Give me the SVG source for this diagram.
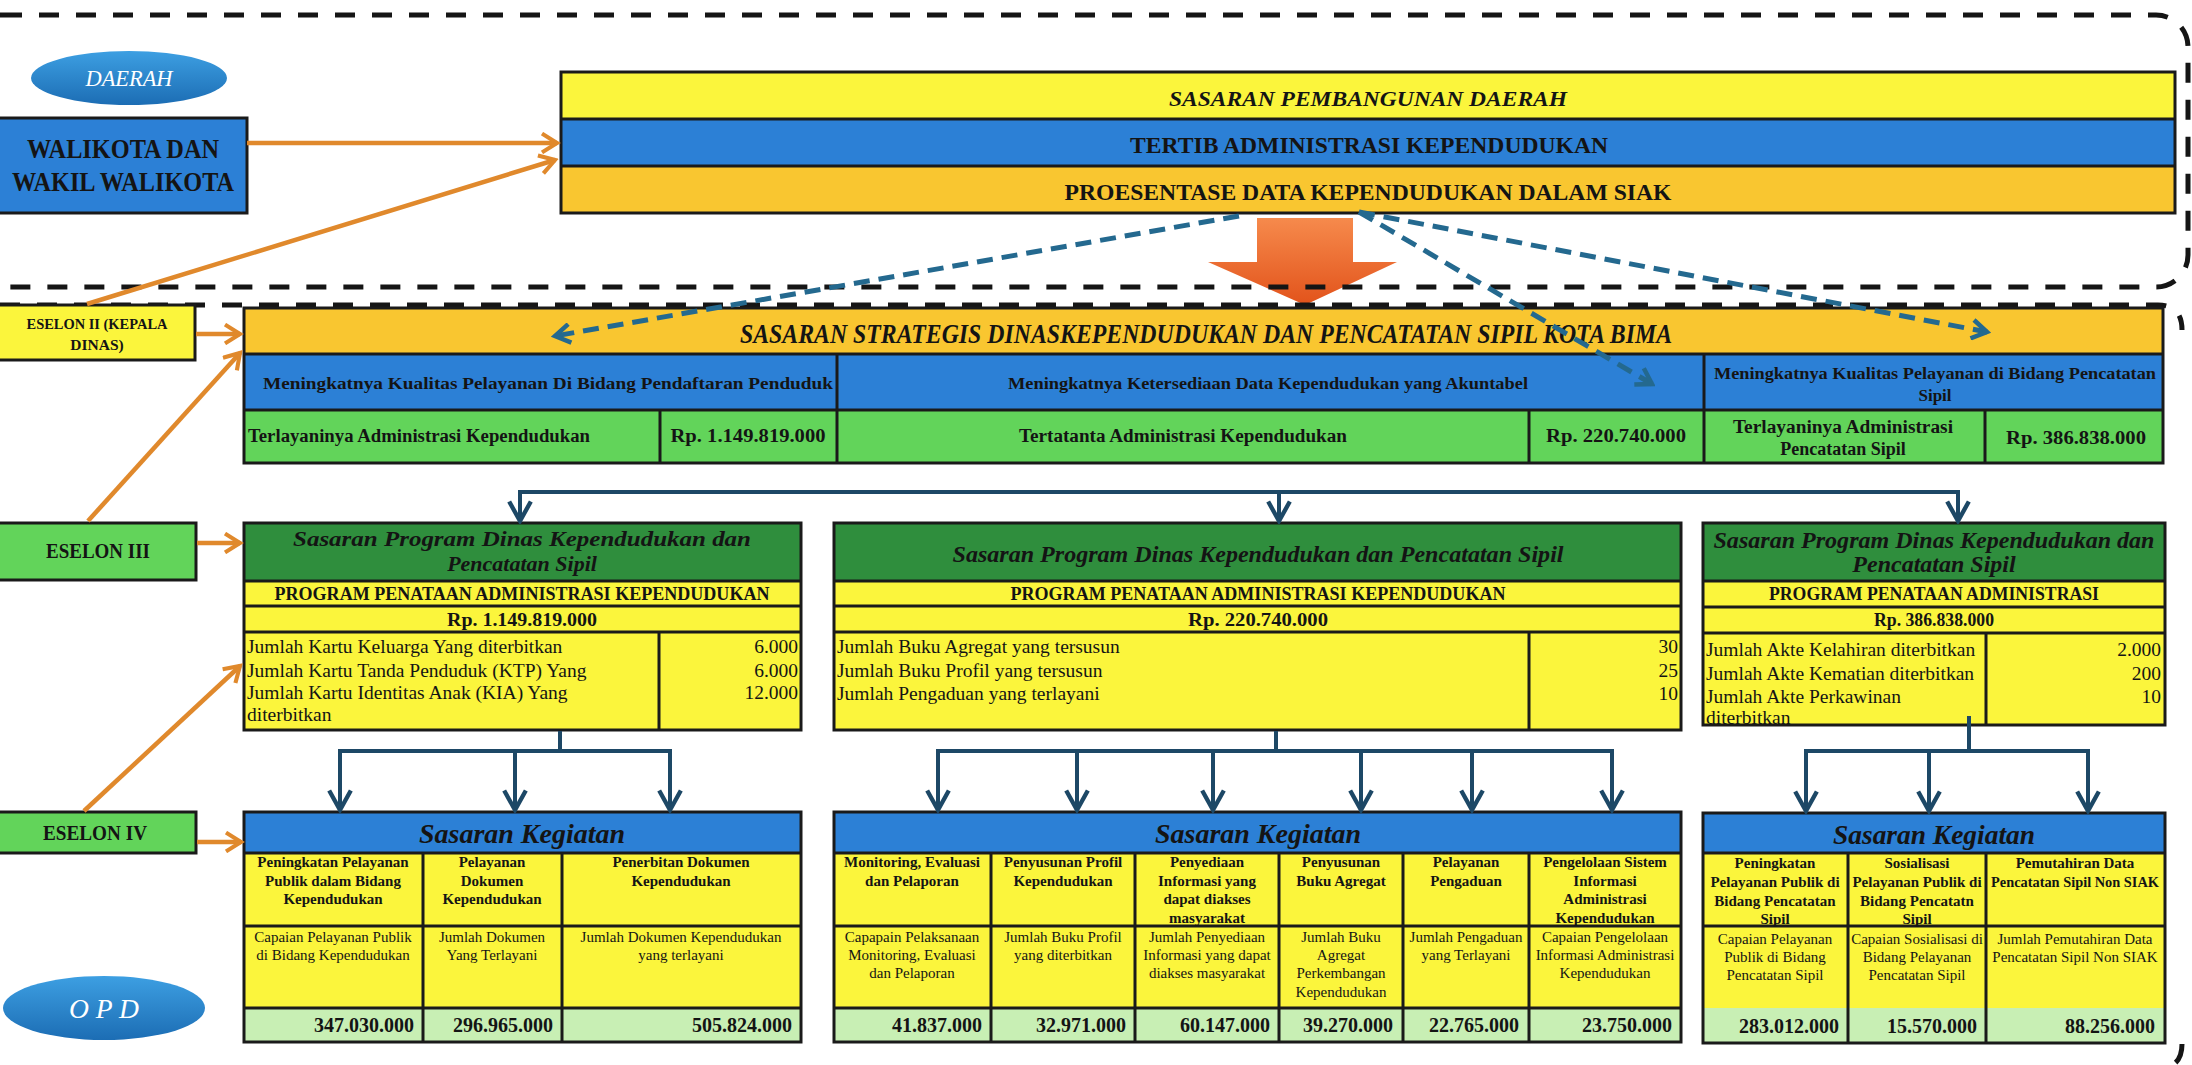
<svg xmlns="http://www.w3.org/2000/svg" width="2192" height="1065" viewBox="0 0 2192 1065">
<defs>
<style>
text{font-family:'Liberation Serif','Times New Roman',serif;fill:#141414}
.b{font-weight:bold}
.i{font-style:italic}
.m{text-anchor:middle}
.e{text-anchor:end}
.bd{stroke:#1a1a1a;stroke-width:3}
.ln{stroke:#1a1a1a;stroke-width:3;fill:none}
.yl{fill:#fbf53c}
.gd{fill:#f9c630}
.bl{fill:#2c80d6}
.dg{fill:#2f8e3d}
.gr{fill:#62d45a}
.lg{fill:#c8efb4}
.frame{fill:none;stroke:#151515;stroke-width:5;stroke-dasharray:20 17}
.or{stroke:#e0892c;stroke-width:4.5;fill:none}
.nv{stroke:#1d4866;stroke-width:4;fill:none}
.bd2{stroke:#24698f;stroke-width:5;fill:none;stroke-dasharray:16 9}
.f15{font-size:15px}
.f19{font-size:19.5px}
.f18{font-size:18px}
.w{fill:#fff}
</style>
<marker id="mo" viewBox="0 0 12 12" refX="10" refY="6" markerWidth="5" markerHeight="5" orient="auto" markerUnits="strokeWidth"><path d="M2,1 L10,6 L2,11" fill="none" stroke="#e0892c" stroke-width="2.2"/></marker>
<marker id="mn" viewBox="0 0 12 12" refX="10.5" refY="6" markerWidth="6.5" markerHeight="6.5" orient="auto" markerUnits="strokeWidth"><path d="M1.5,1 L10.5,6 L1.5,11" fill="none" stroke="#1d4866" stroke-width="2"/></marker>
<marker id="mb" viewBox="0 0 12 12" refX="10" refY="6" markerWidth="4.5" markerHeight="4.5" orient="auto" markerUnits="strokeWidth"><path d="M2,1 L10,6 L2,11" fill="none" stroke="#24698f" stroke-width="2.4"/></marker>
<linearGradient id="ge" x1="0" y1="0" x2="0" y2="1"><stop offset="0" stop-color="#3d9fe2"/><stop offset="1" stop-color="#1c6db4"/></linearGradient>
<linearGradient id="ga" x1="0" y1="0" x2="0" y2="1"><stop offset="0" stop-color="#f68a4c"/><stop offset="1" stop-color="#e2531b"/></linearGradient>
</defs>
<rect x="0" y="0" width="2192" height="1065" fill="#fff"/>

<g id="down-arrow">
<polygon points="1257,218 1353,218 1353,262 1397,262 1305,305 1208,262 1257,262" fill="url(#ga)"/>
</g>

<g id="frames">
<rect class="frame" x="-30" y="15" width="2218" height="272" rx="32"/>
<path class="frame" d="M0,305 H2158 Q2182,305 2182,330"/>
<path class="frame" d="M2182,1044 Q2182,1058 2174,1064"/>
</g>

<g id="daerah">
<ellipse cx="129" cy="78" rx="98" ry="27" fill="url(#ge)"/>
<text class="i m w" x="129" y="86" font-size="23" textLength="87" lengthAdjust="spacingAndGlyphs">DAERAH</text>
</g>

<g id="walikota">
<rect class="bl bd" x="-2" y="118" width="249" height="95"/>
<text class="b m" x="123" y="158" font-size="27" textLength="192" lengthAdjust="spacingAndGlyphs">WALIKOTA DAN</text>
<text class="b m" x="123" y="191" font-size="27" textLength="222" lengthAdjust="spacingAndGlyphs">WAKIL WALIKOTA</text>
</g>

<g id="sasaran-daerah">
<rect class="yl" x="561" y="72" width="1614" height="47"/>
<rect class="bl" x="561" y="119" width="1614" height="47"/>
<rect class="gd" x="561" y="166" width="1614" height="47"/>
<rect class="ln" x="561" y="72" width="1614" height="141" stroke-width="4"/>
<path class="ln" d="M561,119 H2175 M561,166 H2175" stroke-width="4"/>
<text class="b i m" x="1368" y="106" font-size="22" textLength="398" lengthAdjust="spacingAndGlyphs">SASARAN PEMBANGUNAN DAERAH</text>
<text class="b m" x="1369" y="153" font-size="24" textLength="478" lengthAdjust="spacingAndGlyphs">TERTIB ADMINISTRASI KEPENDUDUKAN</text>
<text class="b m" x="1368" y="200" font-size="24" textLength="607" lengthAdjust="spacingAndGlyphs">PROESENTASE DATA KEPENDUDUKAN DALAM SIAK</text>
</g>

<g id="eselon2">
<rect class="yl bd" x="-2" y="305" width="197" height="55"/>
<text class="b m" x="97" y="329" font-size="15.5" textLength="141" lengthAdjust="spacingAndGlyphs">ESELON II (KEPALA</text>
<text class="b m" x="97" y="350" font-size="15.5">DINAS)</text>
</g>

<g id="eselon3">
<rect class="gr bd" x="-2" y="523" width="198" height="57"/>
<text class="b m" x="98" y="558" font-size="21" textLength="104" lengthAdjust="spacingAndGlyphs">ESELON III</text>
</g>

<g id="eselon4">
<rect class="gr bd" x="-2" y="812" width="198" height="41"/>
<text class="b m" x="95" y="840" font-size="21" textLength="104" lengthAdjust="spacingAndGlyphs">ESELON IV</text>
</g>

<g id="opd">
<ellipse cx="104" cy="1008" rx="101" ry="32" fill="url(#ge)"/>
<text class="i m w" x="104" y="1018" font-size="28" textLength="70" lengthAdjust="spacingAndGlyphs">O P D</text>
</g>

<g id="sasaran-strategis">
<rect class="gd" x="244" y="308" width="1919" height="46"/>
<rect class="bl" x="244" y="354" width="1919" height="56"/>
<rect fill="#62d45a" x="244" y="410" width="1919" height="53"/>
<rect class="ln" x="244" y="308" width="1919" height="155"/>
<path class="ln" d="M244,354 H2163 M244,410 H2163 M837,354 V463 M1704,354 V463 M660,410 V463 M1529,410 V463 M1985,410 V463"/>
<text class="b i m" x="1206" y="343" font-size="27" textLength="932" lengthAdjust="spacingAndGlyphs">SASARAN STRATEGIS DINASKEPENDUDUKAN DAN PENCATATAN SIPIL KOTA BIMA</text>
<text class="b m" x="548" y="389" font-size="17" textLength="570" lengthAdjust="spacingAndGlyphs">Meningkatnya Kualitas Pelayanan Di Bidang Pendaftaran Penduduk</text>
<text class="b m" x="1268" y="389" font-size="17" textLength="520" lengthAdjust="spacingAndGlyphs">Meningkatnya Ketersediaan Data Kependudukan yang Akuntabel</text>
<text class="b m" x="1935" y="379" font-size="17" textLength="442" lengthAdjust="spacingAndGlyphs">Meningkatnya Kualitas Pelayanan di Bidang Pencatatan</text>
<text class="b m" x="1935" y="401" font-size="17">Sipil</text>
<text class="b" x="248" y="442" font-size="18" textLength="342" lengthAdjust="spacingAndGlyphs">Terlayaninya Administrasi Kependudukan</text>
<text class="b m" x="748" y="442" font-size="18" textLength="155" lengthAdjust="spacingAndGlyphs">Rp. 1.149.819.000</text>
<text class="b m" x="1183" y="442" font-size="18" textLength="328" lengthAdjust="spacingAndGlyphs">Tertatanta Administrasi Kependudukan</text>
<text class="b m" x="1616" y="442" font-size="18" textLength="140" lengthAdjust="spacingAndGlyphs">Rp. 220.740.000</text>
<text class="b m" x="1843" y="433" font-size="18" textLength="220" lengthAdjust="spacingAndGlyphs">Terlayaninya Administrasi</text>
<text class="b m" x="1843" y="455" font-size="18">Pencatatan Sipil</text>
<text class="b m" x="2076" y="444" font-size="19" textLength="140" lengthAdjust="spacingAndGlyphs">Rp. 386.838.000</text>
</g>

<g id="program-1">
<rect class="dg" x="244" y="523" width="557" height="58"/>
<rect class="yl" x="244" y="581" width="557" height="149"/>
<rect class="ln" x="244" y="523" width="557" height="207"/>
<path class="ln" d="M244,581 H801 M244,606 H801 M244,632 H801 M659,632 V730"/>
<text class="b i m" x="522" y="546" font-size="22" textLength="458" lengthAdjust="spacingAndGlyphs">Sasaran Program Dinas Kependudukan dan</text>
<text class="b i m" x="522" y="571" font-size="22">Pencatatan Sipil</text>
<text class="b m f18" x="522" y="600" textLength="495" lengthAdjust="spacingAndGlyphs">PROGRAM PENATAAN ADMINISTRASI KEPENDUDUKAN</text>
<text class="b m" x="522" y="626" font-size="19" textLength="150" lengthAdjust="spacingAndGlyphs">Rp. 1.149.819.000</text>
<text class="f19" x="247" y="653">Jumlah Kartu Keluarga Yang diterbitkan</text>
<text class="f19" x="247" y="677">Jumlah Kartu Tanda Penduduk (KTP) Yang</text>
<text class="f19" x="247" y="699">Jumlah Kartu Identitas Anak (KIA) Yang</text>
<text class="f19" x="247" y="721">diterbitkan</text>
<text class="f19 e" x="798" y="653">6.000</text>
<text class="f19 e" x="798" y="677">6.000</text>
<text class="f19 e" x="798" y="699">12.000</text>
</g>

<g id="program-2">
<rect class="dg" x="834" y="523" width="847" height="58"/>
<rect class="yl" x="834" y="581" width="847" height="149"/>
<rect class="ln" x="834" y="523" width="847" height="207"/>
<path class="ln" d="M834,581 H1681 M834,606 H1681 M834,632 H1681 M1529,632 V730"/>
<text class="b i m" x="1258" y="562" font-size="23" textLength="611" lengthAdjust="spacingAndGlyphs">Sasaran Program Dinas Kependudukan dan Pencatatan Sipil</text>
<text class="b m f18" x="1258" y="600" textLength="495" lengthAdjust="spacingAndGlyphs">PROGRAM PENATAAN ADMINISTRASI KEPENDUDUKAN</text>
<text class="b m" x="1258" y="626" font-size="19" textLength="140" lengthAdjust="spacingAndGlyphs">Rp. 220.740.000</text>
<text class="f19" x="837" y="653">Jumlah Buku Agregat yang tersusun</text>
<text class="f19" x="837" y="677">Jumlah Buku Profil yang tersusun</text>
<text class="f19" x="837" y="700">Jumlah Pengaduan yang terlayani</text>
<text class="f19 e" x="1678" y="653">30</text>
<text class="f19 e" x="1678" y="677">25</text>
<text class="f19 e" x="1678" y="700">10</text>
</g>

<g id="program-3">
<rect class="dg" x="1703" y="523" width="462" height="58"/>
<rect class="yl" x="1703" y="581" width="462" height="144"/>
<rect class="ln" x="1703" y="523" width="462" height="202"/>
<path class="ln" d="M1703,581 H2165 M1703,607 H2165 M1703,633 H2165 M1986,633 V725"/>
<text class="b i m" x="1934" y="548" font-size="24" textLength="441" lengthAdjust="spacingAndGlyphs">Sasaran Program Dinas Kependudukan dan</text>
<text class="b i m" x="1934" y="572" font-size="24">Pencatatan Sipil</text>
<text class="b m f18" x="1934" y="600" textLength="330" lengthAdjust="spacingAndGlyphs">PROGRAM PENATAAN ADMINISTRASI</text>
<text class="b m" x="1934" y="626" font-size="19" textLength="120" lengthAdjust="spacingAndGlyphs">Rp. 386.838.000</text>
<text class="f19" x="1706" y="656">Jumlah Akte Kelahiran diterbitkan</text>
<text class="f19" x="1706" y="680">Jumlah Akte Kematian diterbitkan</text>
<text class="f19" x="1706" y="703">Jumlah Akte Perkawinan</text>
<text class="f19" x="1706" y="724">diterbitkan</text>
<text class="f19 e" x="2161" y="656">2.000</text>
<text class="f19 e" x="2161" y="680">200</text>
<text class="f19 e" x="2161" y="703">10</text>
</g>

<g id="kegiatan-1">
<rect class="bl" x="244" y="812" width="557" height="41"/>
<rect class="yl" x="244" y="853" width="557" height="155"/>
<rect class="lg" x="244" y="1008" width="557" height="34"/>
<rect class="ln" x="244" y="812" width="557" height="230"/>
<path class="ln" d="M244,853 H801 M244,926 H801 M244,1008 H801 M423,853 V1042 M562,853 V1042"/>
<text class="b i m" x="522" y="843" font-size="28" textLength="206" lengthAdjust="spacingAndGlyphs">Sasaran Kegiatan</text>
<g class="b m f15">
<text x="333" y="867">Peningkatan Pelayanan</text><text x="333" y="885.5">Publik dalam Bidang</text><text x="333" y="904">Kependudukan</text>
<text x="492" y="867">Pelayanan</text><text x="492" y="885.5">Dokumen</text><text x="492" y="904">Kependudukan</text>
<text x="681" y="867">Penerbitan Dokumen</text><text x="681" y="885.5">Kependudukan</text>
</g>
<g class="m f15">
<text x="333" y="942">Capaian Pelayanan Publik</text><text x="333" y="960">di Bidang Kependudukan</text>
<text x="492" y="942">Jumlah Dokumen</text><text x="492" y="960">Yang Terlayani</text>
<text x="681" y="942">Jumlah Dokumen Kependudukan</text><text x="681" y="960">yang terlayani</text>
</g>
<g class="b e" font-size="20">
<text x="414" y="1032">347.030.000</text>
<text x="553" y="1032">296.965.000</text>
<text x="792" y="1032">505.824.000</text>
</g>
</g>

<g id="kegiatan-2">
<rect class="bl" x="834" y="812" width="847" height="41"/>
<rect class="yl" x="834" y="853" width="847" height="155"/>
<rect class="lg" x="834" y="1008" width="847" height="34"/>
<rect class="ln" x="834" y="812" width="847" height="230"/>
<path class="ln" d="M834,853 H1681 M834,926 H1681 M834,1008 H1681 M991,853 V1042 M1135,853 V1042 M1279,853 V1042 M1403,853 V1042 M1529,853 V1042"/>
<text class="b i m" x="1258" y="843" font-size="28" textLength="206" lengthAdjust="spacingAndGlyphs">Sasaran Kegiatan</text>
<g class="b m f15">
<text x="912" y="867">Monitoring, Evaluasi</text><text x="912" y="885.5">dan Pelaporan</text>
<text x="1063" y="867">Penyusunan Profil</text><text x="1063" y="885.5">Kependudukan</text>
<text x="1207" y="867">Penyediaan</text><text x="1207" y="885.5">Informasi yang</text><text x="1207" y="904">dapat diakses</text><text x="1207" y="922.5">masyarakat</text>
<text x="1341" y="867">Penyusunan</text><text x="1341" y="885.5">Buku Agregat</text>
<text x="1466" y="867">Pelayanan</text><text x="1466" y="885.5">Pengaduan</text>
<text x="1605" y="867">Pengelolaan Sistem</text><text x="1605" y="885.5">Informasi</text><text x="1605" y="904">Administrasi</text><text x="1605" y="922.5">Kependudukan</text>
</g>
<g class="m f15">
<text x="912" y="942">Capapain Pelaksanaan</text><text x="912" y="960">Monitoring, Evaluasi</text><text x="912" y="978">dan Pelaporan</text>
<text x="1063" y="942">Jumlah Buku Profil</text><text x="1063" y="960">yang diterbitkan</text>
<text x="1207" y="942">Jumlah Penyediaan</text><text x="1207" y="960">Informasi yang dapat</text><text x="1207" y="978">diakses masyarakat</text>
<text x="1341" y="942">Jumlah Buku</text><text x="1341" y="960">Agregat</text><text x="1341" y="978">Perkembangan</text><text x="1341" y="997">Kependudukan</text>
<text x="1466" y="942">Jumlah Pengaduan</text><text x="1466" y="960">yang Terlayani</text>
<text x="1605" y="942">Capaian Pengelolaan</text><text x="1605" y="960">Informasi Administrasi</text><text x="1605" y="978">Kependudukan</text>
</g>
<g class="b e" font-size="20">
<text x="982" y="1032">41.837.000</text>
<text x="1126" y="1032">32.971.000</text>
<text x="1270" y="1032">60.147.000</text>
<text x="1393" y="1032">39.270.000</text>
<text x="1519" y="1032">22.765.000</text>
<text x="1672" y="1032">23.750.000</text>
</g>
</g>

<g id="kegiatan-3">
<rect class="bl" x="1703" y="813" width="462" height="40"/>
<rect class="yl" x="1703" y="853" width="462" height="155"/>
<rect class="lg" x="1703" y="1008" width="462" height="35"/>
<rect class="ln" x="1703" y="813" width="462" height="230"/>
<path class="ln" d="M1703,853 H2165 M1703,926 H2165 M1848,853 V1043 M1986,853 V1043"/>
<text class="b i m" x="1934" y="844" font-size="28" textLength="202" lengthAdjust="spacingAndGlyphs">Sasaran Kegiatan</text>
<g class="b m f15">
<text x="1775" y="868">Peningkatan</text><text x="1775" y="887">Pelayanan Publik di</text><text x="1775" y="905.5">Bidang Pencatatan</text><text x="1775" y="923.5">Sipil</text>
<text x="1917" y="868">Sosialisasi</text><text x="1917" y="887">Pelayanan Publik di</text><text x="1917" y="905.5">Bidang Pencatatn</text><text x="1917" y="923.5">Sipil</text>
<text x="2075" y="868">Pemutahiran Data</text><text x="2075" y="887" textLength="168" lengthAdjust="spacingAndGlyphs">Pencatatan Sipil Non SIAK</text>
</g>
<g class="m f15">
<text x="1775" y="944">Capaian Pelayanan</text><text x="1775" y="962">Publik di Bidang</text><text x="1775" y="980">Pencatatan Sipil</text>
<text x="1917" y="944">Capaian Sosialisasi di</text><text x="1917" y="962">Bidang Pelayanan</text><text x="1917" y="980">Pencatatan Sipil</text>
<text x="2075" y="944">Jumlah Pemutahiran Data</text><text x="2075" y="962">Pencatatan Sipil Non SIAK</text>
</g>
<g class="b e" font-size="20">
<text x="1839" y="1033">283.012.000</text>
<text x="1977" y="1033">15.570.000</text>
<text x="2155" y="1033">88.256.000</text>
</g>
</g>

<g id="connectors">
<line class="or" x1="247" y1="143" x2="557" y2="143" marker-end="url(#mo)"/>
<line class="or" x1="87" y1="304" x2="555" y2="160" marker-end="url(#mo)"/>
<line class="or" x1="196" y1="334" x2="240" y2="334" marker-end="url(#mo)"/>
<line class="or" x1="88" y1="521" x2="240" y2="353" marker-end="url(#mo)"/>
<line class="or" x1="197" y1="543" x2="240" y2="543" marker-end="url(#mo)"/>
<line class="or" x1="84" y1="811" x2="240" y2="666" marker-end="url(#mo)"/>
<line class="or" x1="197" y1="842" x2="241" y2="842" marker-end="url(#mo)"/>
<line class="bd2" x1="1239" y1="216" x2="555" y2="336" marker-end="url(#mb)"/>
<line class="bd2" x1="1359" y1="212" x2="1987" y2="332" marker-end="url(#mb)"/>
<line class="bd2" x1="1359" y1="212" x2="1652" y2="384" marker-end="url(#mb)"/>
<path class="nv" d="M520,492 H1958"/>
<line class="nv" x1="520" y1="490" x2="520" y2="521" marker-end="url(#mn)"/>
<line class="nv" x1="1279" y1="492" x2="1279" y2="521" marker-end="url(#mn)"/>
<line class="nv" x1="1958" y1="490" x2="1958" y2="521" marker-end="url(#mn)"/>
<path class="nv" d="M560,731 V751 M340,751 H670"/>
<line class="nv" x1="340" y1="749" x2="340" y2="810" marker-end="url(#mn)"/>
<line class="nv" x1="515" y1="751" x2="515" y2="810" marker-end="url(#mn)"/>
<line class="nv" x1="670" y1="749" x2="670" y2="810" marker-end="url(#mn)"/>
<path class="nv" d="M1276,731 V751 M938,751 H1612"/>
<line class="nv" x1="938" y1="749" x2="938" y2="810" marker-end="url(#mn)"/>
<line class="nv" x1="1077" y1="751" x2="1077" y2="810" marker-end="url(#mn)"/>
<line class="nv" x1="1213" y1="751" x2="1213" y2="810" marker-end="url(#mn)"/>
<line class="nv" x1="1361" y1="751" x2="1361" y2="810" marker-end="url(#mn)"/>
<line class="nv" x1="1472" y1="751" x2="1472" y2="810" marker-end="url(#mn)"/>
<line class="nv" x1="1612" y1="749" x2="1612" y2="810" marker-end="url(#mn)"/>
<path class="nv" d="M1969,716 V751 M1806,751 H2088"/>
<line class="nv" x1="1806" y1="749" x2="1806" y2="811" marker-end="url(#mn)"/>
<line class="nv" x1="1929" y1="751" x2="1929" y2="811" marker-end="url(#mn)"/>
<line class="nv" x1="2088" y1="749" x2="2088" y2="811" marker-end="url(#mn)"/>
</g>
</svg>
